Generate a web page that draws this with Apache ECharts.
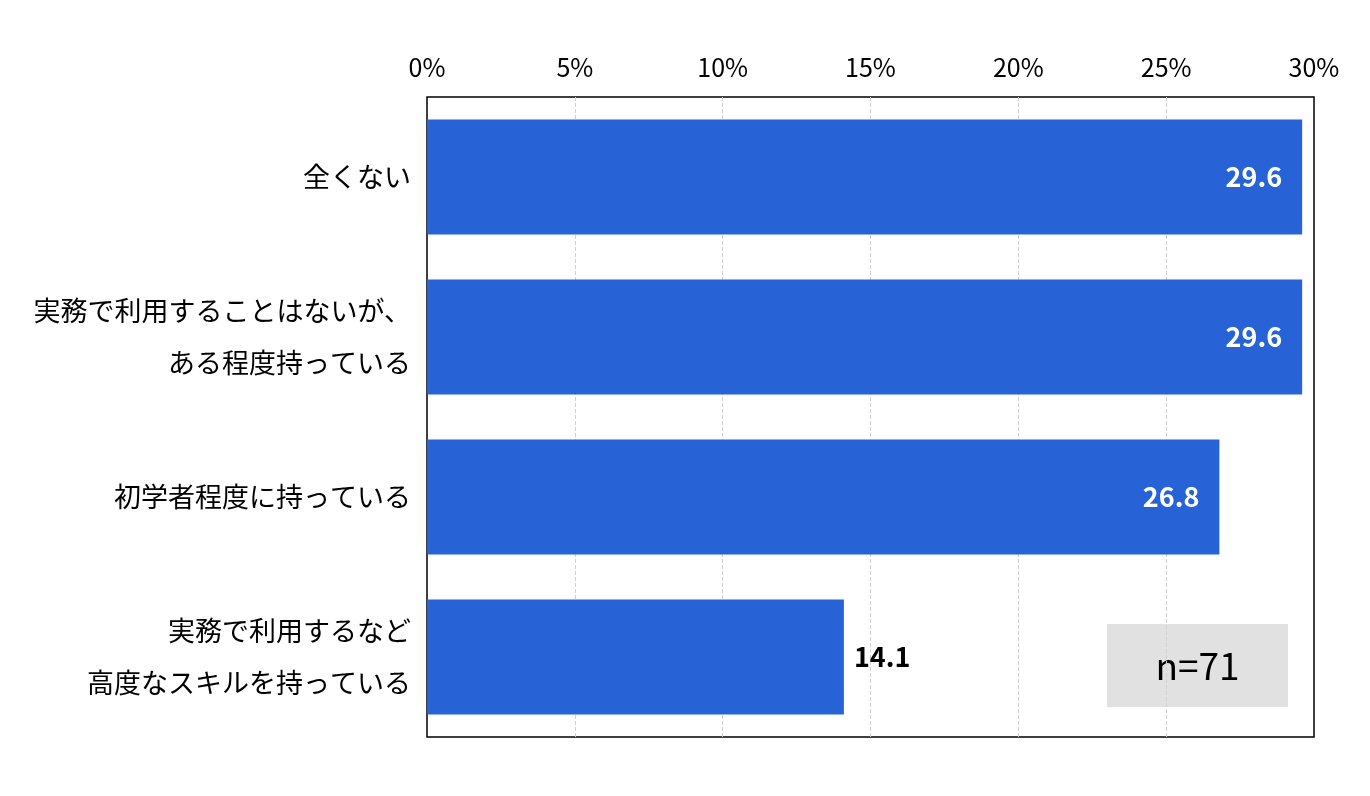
<!DOCTYPE html>
<html lang="ja">
<head>
<meta charset="utf-8">
<title>chart</title>
<script src="https://cdn.jsdelivr.net/npm/echarts@6/dist/echarts.min.js"></script>
<style>
  html, body { margin: 0; padding: 0; background: #fff; }
  #main { width: 1370px; height: 796px; }
</style>
</head>
<body>
<div id="main"></div>
<script>
var categories = [
  '全くない',
  '実務で利用することはないが、\nある程度持っている',
  '初学者程度に持っている',
  '実務で利用するなど\n高度なスキルを持っている'
];
var values = [29.6, 29.6, 26.8, 14.1];
var sampleText = 'n=71';

var font = '"Noto Sans CJK JP", "Noto Sans", sans-serif';
var chart = echarts.init(document.getElementById('main'));

var barData = values.map(function (v) {
  var inside = v > 20;
  return {
    value: v,
    label: {
      position: inside ? 'insideRight' : 'right',
      color: inside ? '#fff' : '#000',
      distance: inside ? 20 : 10
    }
  };
});

chart.setOption({
  animation: false,
  grid: {
    left: 427, right: 56, top: 97, bottom: 59,
    show: true, borderColor: '#000', borderWidth: 1.5,
    containLabel: false
  },
  xAxis: {
    type: 'value',
    position: 'top',
    min: 0, max: 30, interval: 5,
    axisLine: { show: false },
    axisTick: { show: false },
    axisLabel: {
      formatter: '{value}%',
      fontFamily: font, fontSize: 25, color: '#000', margin: 17
    },
    splitLine: {
      show: true, showMinLine: false, showMaxLine: false,
      lineStyle: { color: '#d0d0d0', type: 'dashed', width: 1 }
    }
  },
  yAxis: {
    type: 'category',
    inverse: true,
    data: categories,
    axisLine: { show: false },
    axisTick: { show: false },
    axisLabel: {
      fontFamily: font, fontSize: 27, color: '#000', margin: 16,
      lineHeight: 52, align: 'right'
    }
  },
  series: [{
    type: 'bar',
    data: barData,
    barWidth: '72%',
    itemStyle: { color: '#2762d6' },
    label: {
      show: true,
      fontFamily: font, fontSize: 27, fontWeight: 'bold',
      formatter: function (p) { return p.value.toFixed(1); }
    }
  }],
  graphic: [{
    type: 'group',
    left: 1107, top: 624,
    children: [{
      type: 'rect',
      shape: { x: 0, y: 0, width: 181, height: 83 },
      style: { fill: '#e1e1e1' }
    }, {
      type: 'text',
      x: 90.5, y: 42,
      style: {
        text: sampleText, fill: '#000',
        font: '37px ' + font,
        textAlign: 'center', textVerticalAlign: 'middle'
      }
    }]
  }]
});
</script>
</body>
</html>
